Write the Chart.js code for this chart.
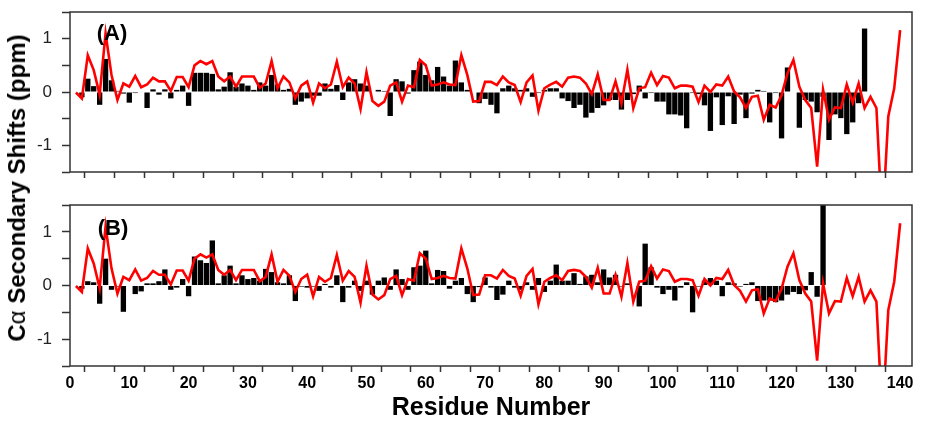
<!DOCTYPE html>
<html>
<head>
<meta charset="utf-8">
<script src="https://cdn.jsdelivr.net/npm/chart.js@4.4.1/dist/chart.umd.min.js"></script>
<style>
  html, body { margin: 0; padding: 0; background: #fff; }
  #wrap { position: relative; width: 930px; height: 432px; overflow: hidden; font-family: 'Liberation Sans', Arial, sans-serif; }
  .panel { position: absolute; left: 0; width: 930px; }
  #boxA { top: 0; height: 190px; }
  #boxB { top: 190px; height: 242px; }
  #ytitle { position: absolute; left: 17px; top: 188px; transform: translate(-50%, -50%) rotate(-90deg);
            white-space: nowrap; font-weight: bold; font-size: 24px; color: #000; }
  #ytitle span { font-weight: normal; }
  .tag { position: absolute; font-weight: bold; font-size: 22px; color: #000; transform: translate(-50%, -50%); }
</style>
</head>
<body>
<div id="wrap">
  <div class="panel" id="boxA"><canvas id="chartA"></canvas></div>
  <div class="panel" id="boxB"><canvas id="chartB"></canvas></div>
  <div id="ytitle">C<span>α</span> Secondary Shifts (ppm)</div>
  <div class="tag" style="left:112px; top:33px;">(A)</div>
  <div class="tag" style="left:113px; top:228px;">(B)</div>
</div>
<script>
// residue numbers (x values)
const residues = [
  1, 2, 3, 4, 5, 6, 7, 8, 9, 10,
  11, 12, 13, 14, 15, 16, 17, 18, 19, 20,
  21, 22, 23, 24, 25, 26, 27, 28, 29, 30,
  31, 32, 33, 34, 35, 36, 37, 38, 39, 40,
  41, 42, 43, 44, 45, 46, 47, 48, 49, 50,
  51, 52, 53, 54, 55, 56, 57, 58, 59, 60,
  61, 62, 63, 64, 65, 66, 67, 68, 69, 70,
  71, 72, 73, 74, 75, 76, 77, 78, 79, 80,
  81, 82, 83, 84, 85, 86, 87, 88, 89, 90,
  91, 92, 93, 94, 95, 96, 97, 98, 99, 100,
  101, 102, 103, 104, 105, 106, 107, 108, 109, 110,
  111, 112, 113, 114, 115, 116, 117, 118, 119, 120,
  121, 122, 123, 124, 125, 126, 127, 128, 129, 130,
  131, 132, 133, 134, 135, 136, 137, 138, 139, 140
];

// measured C-alpha secondary shifts, panel (A), residues 1-134
const shiftsA = [
  0, -0.1, 0.25, 0.11, -0.24, 0.62, 0.22, 0.02, -0.03, -0.2,
  -0.02, 0.01, -0.3, 0.05, -0.05, 0.05, -0.12, 0.04, 0.12, -0.26,
  0.36, 0.36, 0.36, 0.34, 0.05, 0.1, 0.37, 0.1, 0.16, 0.12,
  0.04, 0.18, 0.12, 0.32, 0.14, 0.04, 0.06, -0.24, -0.18, -0.12,
  -0.07, -0.07, 0.16, 0.06, 0.13, -0.15, 0.18, 0.24, 0.16, 0.12,
  0, 0.04, 0.02, -0.45, 0.24, 0.2, -0.03, 0.41, 0.57, 0.32,
  0.22, 0.47, 0.29, 0.12, 0.59, 0.18, 0.04, 0, -0.21, -0.13,
  -0.24, -0.4, 0.07, 0.12, 0.07, 0.04, 0.07, -0.09, -0.02, 0.04,
  0.07, 0.07, -0.12, -0.17, -0.3, -0.24, -0.48, -0.39, -0.3, -0.25,
  -0.15, -0.15, -0.33, -0.15, -0.04, 0.12, -0.12, -0.02, -0.18, -0.18,
  -0.42, -0.42, -0.44, -0.68, -0.02, -0.04, -0.25, -0.73, -0.1, -0.62,
  -0.08, -0.6, -0.05, -0.49, -0.03, 0.04, 0.02, -0.57, -0.02, -0.87,
  0.46, 0, -0.67, -0.15, -0.18, -0.38, -0.09, -0.9, -0.42, -0.49,
  -0.79, -0.57, -0.21, 1.19
];

// measured shifts, panel (B), residues 1-127
const shiftsB = [
  0, -0.06, 0.08, 0.06, -0.34, 0.5, -0.08, -0.02, -0.49, 0,
  -0.16, -0.11, 0.04, 0.04, 0.08, 0.3, -0.08, -0.04, 0.12, -0.2,
  0.54, 0.47, 0.42, 0.84, 0.04, 0.19, 0.37, 0.04, 0.19, 0.12,
  0.14, 0.09, 0.31, 0.25, 0.06, 0.04, 0.19, -0.29, -0.02, -0.04,
  -0.02, -0.1, 0.03, -0.04, 0.19, -0.31, -0.04, 0.09, -0.1, 0.09,
  -0.17, 0.09, 0.15, -0.08, 0.3, 0.12, -0.08, 0.34, 0.37, 0.65,
  0.04, 0.29, 0.27, -0.06, 0.09, 0.14, -0.16, -0.31, -0.03, 0.15,
  -0.04, -0.27, -0.17, 0.09, -0.04, -0.08, 0.06, -0.08, 0.14, -0.12,
  0.09, 0.39, 0.09, 0.09, 0.23, 0.03, 0.17, 0.2, 0.06, 0.3,
  0.15, 0.2, -0.02, 0.04, 0, -0.39, 0.78, 0.34, -0.04, -0.16,
  -0.08, -0.28, -0.04, 0.06, -0.5, -0.02, 0.09, 0.14, 0.09, -0.2,
  0.06, 0.04, -0.02, 0.03, 0.06, -0.29, -0.28, -0.28, -0.31, -0.28,
  -0.17, -0.12, -0.16, -0.09, 0.25, -0.21, 1.7
];

// red reference line (same in both panels), residues 1-140
const predicted = [
  -0.01, -0.12, 0.69, 0.41, -0.05, 1.1, 0.32, -0.15, 0.16, 0.1,
  0.3, 0.09, 0.14, 0.27, 0.2, 0.2, 0.02, 0.28, 0.28, 0.09,
  0.5, 0.58, 0.52, 0.58, 0.29, 0.2, 0.29, 0.1, 0.29, 0.29,
  0.29, 0.08, 0.16, 0.58, 0.07, 0.29, 0.18, -0.12, 0.12, 0.2,
  -0.2, 0.16, 0.07, 0.14, 0.57, 0.09, 0.27, 0.16, -0.32, 0.37,
  -0.17, -0.26, -0.18, 0.12, 0.18, -0.18, 0.12, 0.09, 0.6, 0.5,
  0.12, 0.14, 0.18, 0.14, 0.13, 0.69, 0.32, -0.18, -0.17, 0.19,
  0.19, 0.13, 0.29, 0.18, 0.13, -0.19, 0.18, 0.31, -0.35, 0.07,
  0.14, 0.19, 0.1, 0.27, 0.29, 0.27, 0.16, -0.04, 0.33, -0.15,
  -0.15, 0.2, -0.21, 0.42, -0.3, 0.07, 0.09, 0.36, 0.13, 0.3,
  0.27, 0.07, 0.12, 0.12, 0.1, -0.19, 0.12, 0, 0.14, 0.12,
  0.29, 0.01, -0.1, -0.3, -0.09, -0.07, -0.52, -0.24, -0.29, -0.06,
  0.35, 0.6, 0.1, -0.15, -0.3, -1.4, 0.04, -0.52, -0.29, -0.3,
  0.14, -0.2, 0.16, -0.3, -0.09, -0.3, -2.5, -0.46, 0.07, 1.16
];

Chart.defaults.font.family = "'Liberation Sans', Arial, sans-serif";
Chart.defaults.animation = false;

// box round the plot area
const framePlugin = {
  id: 'frame',
  afterDatasetsDraw(chart) {
    const a = chart.chartArea;
    const c = chart.ctx;
    c.save();
    c.strokeStyle = '#333';
    c.lineWidth = 1.5;
    c.strokeRect(a.left, a.top, a.right - a.left, a.bottom - a.top);
    c.restore();
  }
};

function points(vals) {
  return vals.map((v, i) => ({ x: residues[i], y: v }));
}

function makePanel(id, shifts, opts) {
  return new Chart(document.getElementById(id), {
    type: 'bar',
    data: {
      datasets: [
        {
          type: 'line',
          data: points(predicted),
          borderColor: '#ff0000',
          borderWidth: 2.6,
          pointRadius: 0,
          tension: 0,
          order: 0
        },
        {
          type: 'bar',
          data: points(shifts),
          backgroundColor: '#000',
          borderWidth: 0,
          barPercentage: 0.9,
          categoryPercentage: 1,
          order: 1
        }
      ]
    },
    options: {
      responsive: true,
      maintainAspectRatio: false,
      layout: { padding: { top: opts.padTop, right: 18, left: 0, bottom: 0 } },
      plugins: { legend: { display: false }, tooltip: { enabled: false } },
      scales: {
        x: {
          type: 'linear',
          min: 0,
          max: 142,
          offset: false,
          afterFit: s => {
            s.height = opts.xHeight;
            s.paddingLeft = 0;
            s.paddingRight = 0;
          },
          border: { display: false },
          grid: { drawOnChartArea: false, tickLength: 6, tickColor: '#333', tickWidth: 1.5 },
          ticks: {
            stepSize: 5,
            includeBounds: false,
            autoSkip: false,
            maxRotation: 0,
            padding: 2,
            color: '#000',
            font: { size: 16, weight: 'bold' },
            callback: v => (opts.xLabels && v % 10 === 0) ? v : ''
          },
          title: {
            display: opts.xLabels,
            text: 'Residue Number',
            color: '#000',
            font: { size: 25, weight: 'bold' },
            padding: { top: 0, bottom: 9 }
          }
        },
        y: {
          min: -1.5,
          max: 1.5,
          afterFit: s => {
            s.width = 70;
            s.paddingTop = 0;
            s.paddingBottom = 0;
          },
          border: { display: false },
          grid: { drawOnChartArea: false, tickLength: 8, tickColor: '#333', tickWidth: 1.5 },
          ticks: {
            stepSize: 0.5,
            autoSkip: false,
            padding: 10,
            color: '#222',
            font: { size: 17 },
            callback: v => Number.isInteger(v) ? v : ''
          }
        }
      }
    },
    plugins: [framePlugin]
  });
}

makePanel('chartA', shiftsA, { padTop: 12, xHeight: 18, xLabels: false });
makePanel('chartB', shiftsB, { padTop: 15, xHeight: 66, xLabels: true });
</script>
</body>
</html>
